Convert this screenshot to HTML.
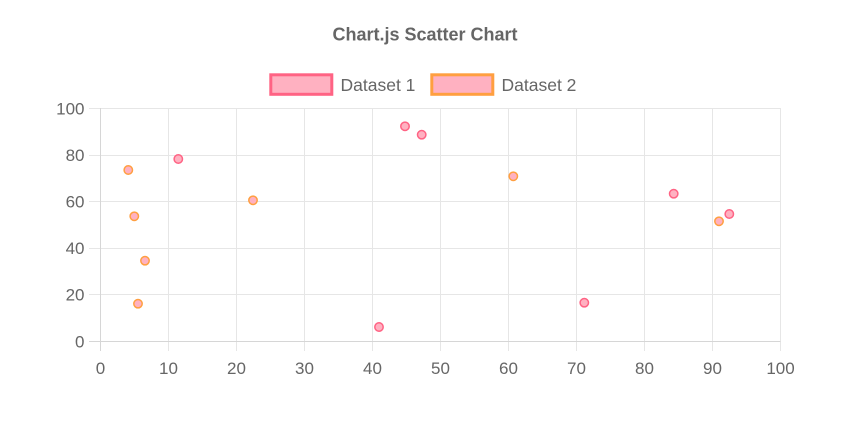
<!DOCTYPE html>
<html>
<head>
<meta charset="utf-8">
<style>
html,body{margin:0;padding:0;background:#fff;}
svg{display:block;}
text{font-family:"Liberation Sans",Arial,sans-serif;fill:#666;}
</style>
</head>
<body>
<svg width="855" height="435" viewBox="0 0 855 435" xmlns="http://www.w3.org/2000/svg">
  <rect width="855" height="435" fill="#fff"/>
  <!-- Title -->
  <text x="425" y="40.5" font-size="18" font-weight="bold" text-anchor="middle">Chart.js Scatter Chart</text>

  <!-- Legend -->
  <rect x="270.8" y="74.8" width="61" height="19.5" fill="rgb(255,177,193)" stroke="rgb(255,99,132)" stroke-width="3"/>
  <text x="340.5" y="91" font-size="17.5">Dataset 1</text>
  <rect x="431.8" y="74.8" width="61" height="19.5" fill="rgb(255,177,193)" stroke="rgb(255,159,64)" stroke-width="3"/>
  <text x="501.5" y="91" font-size="17.5">Dataset 2</text>

  <!-- Grid -->
  <g stroke="#e6e6e6" stroke-width="1" shape-rendering="crispEdges">
    <line x1="89" y1="108.5" x2="780.5" y2="108.5"/>
    <line x1="89" y1="155.5" x2="780.5" y2="155.5"/>
    <line x1="89" y1="201.5" x2="780.5" y2="201.5"/>
    <line x1="89" y1="248.5" x2="780.5" y2="248.5"/>
    <line x1="89" y1="294.5" x2="780.5" y2="294.5"/>
    <line x1="168.5" y1="108" x2="168.5" y2="351"/>
    <line x1="236.5" y1="108" x2="236.5" y2="351"/>
    <line x1="304.5" y1="108" x2="304.5" y2="351"/>
    <line x1="372.5" y1="108" x2="372.5" y2="351"/>
    <line x1="440.5" y1="108" x2="440.5" y2="351"/>
    <line x1="508.5" y1="108" x2="508.5" y2="351"/>
    <line x1="576.5" y1="108" x2="576.5" y2="351"/>
    <line x1="644.5" y1="108" x2="644.5" y2="351"/>
    <line x1="712.5" y1="108" x2="712.5" y2="351"/>
    <line x1="780.5" y1="108" x2="780.5" y2="351"/>
  </g>
  <g stroke="#d6d6d6" stroke-width="1" shape-rendering="crispEdges">
    <line x1="89" y1="341.5" x2="780.5" y2="341.5"/>
    <line x1="100.5" y1="108" x2="100.5" y2="351"/>
  </g>

  <!-- Y tick labels -->
  <g font-size="17" text-anchor="end">
    <text x="84.5" y="114.3">100</text>
    <text x="84.5" y="160.9">80</text>
    <text x="84.5" y="207.5">60</text>
    <text x="84.5" y="254.1">40</text>
    <text x="84.5" y="300.7">20</text>
    <text x="84.5" y="347.3">0</text>
  </g>
  <!-- X tick labels -->
  <g font-size="17" text-anchor="middle">
    <text x="100.5" y="373.8">0</text>
    <text x="168.5" y="373.8">10</text>
    <text x="236.5" y="373.8">20</text>
    <text x="304.5" y="373.8">30</text>
    <text x="372.5" y="373.8">40</text>
    <text x="440.5" y="373.8">50</text>
    <text x="508.5" y="373.8">60</text>
    <text x="576.5" y="373.8">70</text>
    <text x="644.5" y="373.8">80</text>
    <text x="712.5" y="373.8">90</text>
    <text x="780.5" y="373.8">100</text>
  </g>

  <!-- Dataset 1 -->
  <g fill="rgb(255,177,193)" stroke="rgb(255,99,132)" stroke-width="1.5">
    <circle cx="178.3" cy="159" r="4.2"/>
    <circle cx="379" cy="327" r="4.2"/>
    <circle cx="405" cy="126.3" r="4.2"/>
    <circle cx="421.7" cy="134.7" r="4.2"/>
    <circle cx="584.3" cy="302.7" r="4.2"/>
    <circle cx="673.7" cy="193.7" r="4.2"/>
    <circle cx="729.3" cy="214" r="4.2"/>
  </g>
  <!-- Dataset 2 -->
  <g fill="rgb(255,177,193)" stroke="rgb(255,159,64)" stroke-width="1.5">
    <circle cx="128.3" cy="170" r="4.2"/>
    <circle cx="134.3" cy="216.3" r="4.2"/>
    <circle cx="145" cy="260.7" r="4.2"/>
    <circle cx="138" cy="303.7" r="4.2"/>
    <circle cx="253" cy="200.3" r="4.2"/>
    <circle cx="513.3" cy="176.3" r="4.2"/>
    <circle cx="719" cy="221.3" r="4.2"/>
  </g>
</svg>
</body>
</html>
